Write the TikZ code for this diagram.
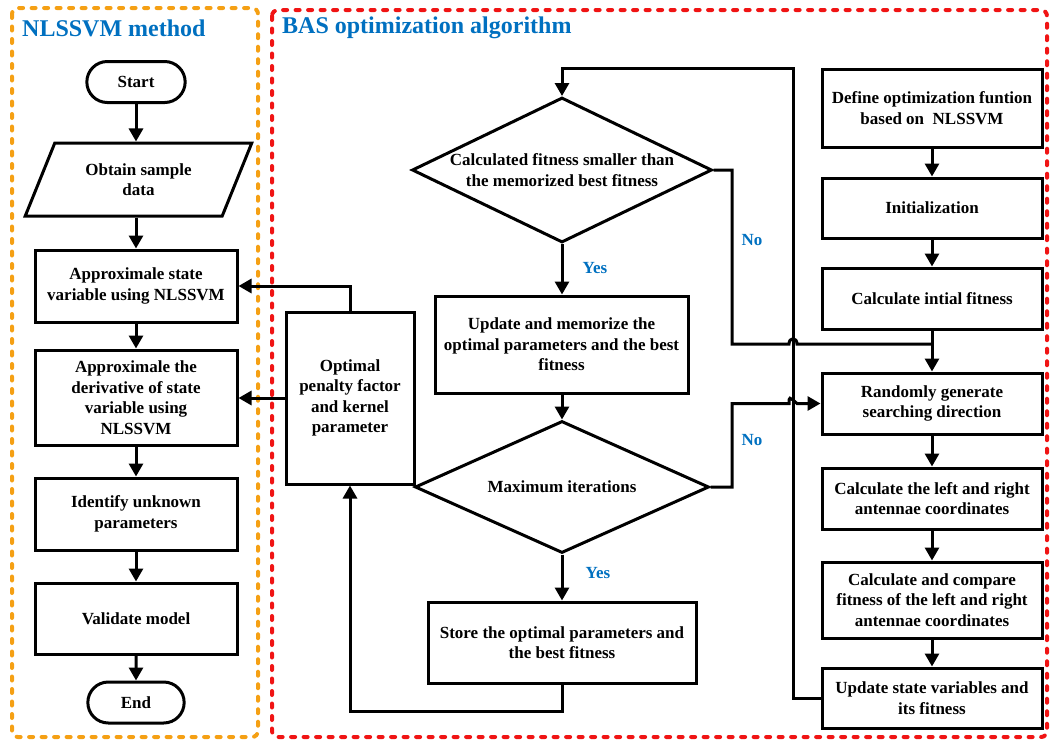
\documentclass[tikz,border=0pt]{standalone}
\usepackage{fontspec}
\setmainfont{Liberation Serif}
\usetikzlibrary{arrows.meta,shapes.geometric,shapes.misc}
\definecolor{ttl}{RGB}{0,112,192}
\definecolor{orng}{RGB}{245,160,20}
\definecolor{rd}{RGB}{240,20,20}
\begin{document}
\begin{tikzpicture}[x=1pt,y=-1pt,
  every node/.style={font=\fontsize{17}{20.5}\selectfont\bfseries, align=center},
  box/.style={draw, line width=3pt, rectangle, inner sep=2pt},
  pill/.style={draw, line width=3pt, rounded rectangle},
  dec/.style={draw, line width=3pt, diamond, inner sep=0pt, aspect=2.07},
  conn/.style={line width=3pt},
  arr/.style={conn, -{Triangle[length=13pt,width=14pt]}},
  lbl/.style={text=ttl},
  ttlstyle/.style={anchor=west, inner sep=0pt, text=ttl, font=\fontsize{24}{28}\selectfont\bfseries},
  frame/.style={line width=4pt, line cap=round, dash pattern=on 4pt off 8.5pt}]
\useasboundingbox (0,0) rectangle (1052,742);

% frames
\draw[frame, orng, rounded corners=6pt] (12,8) rectangle (258,737);
\draw[frame, rd, rounded corners=6pt] (272,10) rectangle (1047,737);

% titles
\node[ttlstyle] (t1) at (22,28) {NLSSVM method};
\node[ttlstyle] (t2) at (282,28) {BAS optimization algorithm};

% left column
\node[pill, minimum width=105pt, minimum height=41pt] (start) at (136,82) {Start};
\node[draw, line width=3pt, trapezium, trapezium left angle=63, trapezium right angle=117,
      trapezium stretches=true, minimum width=227pt, minimum height=73pt] (obtain) at (138.5,179.5) {Obtain sample\\data};
\node[box, minimum width=202pt, minimum height=72pt] (ap1) at (136,286) {Approximale state\\variable using NLSSVM};
\node[box, minimum width=202pt, minimum height=95pt] (ap2) at (136,397.5) {Approximale the\\derivative of state\\variable using\\NLSSVM};
\node[box, minimum width=202pt, minimum height=72pt] (ident) at (136,514) {Identify unknown\\parameters};
\node[box, minimum width=202pt, minimum height=71pt] (valid) at (136,618.5) {Validate model};
\node[pill, minimum width=103pt, minimum height=41pt] (endn) at (136,702.5) {End};

% middle
\node[box, minimum width=128pt, minimum height=172pt] (pen) at (350,398) {Optimal\\penalty factor\\and kernel\\parameter};
\node[dec, minimum width=300pt, minimum height=145pt] (d1) at (562,170) {Calculated fitness smaller than\\the memorized best fitness};
\node[box, minimum width=253pt, minimum height=97pt] (upd) at (561.5,344.5) {Update and memorize the\\optimal parameters and the best\\fitness};
\node[dec, minimum width=294pt, minimum height=132pt] (d2) at (562,487) {Maximum iterations};
\node[box, minimum width=268pt, minimum height=81pt] (store) at (562,642.5) {Store the optimal parameters and\\the best fitness};

% right column
\node[box, minimum width=220pt, minimum height=78pt] (def) at (932,108) {Define optimization funtion\\based on\ \ NLSSVM};
\node[box, minimum width=220pt, minimum height=60pt] (init) at (932,208) {Initialization};
\node[box, minimum width=220pt, minimum height=61pt] (cinit) at (932,298.5) {Calculate intial fitness};
\node[box, minimum width=220pt, minimum height=61pt] (rand) at (932,403.5) {Randomly generate\\searching direction};
\node[box, minimum width=220pt, minimum height=61pt] (ant) at (932,498.5) {Calculate the left and right\\antennae coordinates};
\node[box, minimum width=220pt, minimum height=76pt] (cmp) at (932,600) {Calculate and compare\\fitness of the left and right\\antennae coordinates};
\node[box, minimum width=220pt, minimum height=60pt] (ust) at (932,698) {Update state variables and\\its fitness};

% labels
\node[lbl] (yes1) at (595,268) {Yes};
\node[lbl] (yes2) at (598,573) {Yes};
\node[lbl] (no1) at (752,240) {No};
\node[lbl] (no2) at (752,440) {No};

% left column connectors
\draw[arr] (start.south) -- (start.south |- obtain.north);
\draw[arr] (start.south |- obtain.south) -- (ap1.north);
\draw[arr] (ap1) -- (ap2);
\draw[arr] (ap2) -- (ident);
\draw[arr] (ident) -- (valid);
\draw[arr] (valid) -- (endn);

% penalty connectors
\draw[arr] (pen.north) |- (ap1.east);
\draw[arr] (pen.west) -- (pen.west -| ap2.east);

% middle connectors
\draw[arr] (d1.south) -- (d1.south |- upd.north);
\draw[arr] (upd.south -| d2.north) -- (d2.north);
\draw[arr] (d2.south) -- (d2.south |- store.north);
\draw[arr] (store.south) -- ++(0,27) -| (pen.south);

% right column connectors
\draw[arr] (def) -- (init);
\draw[arr] (init) -- (cinit);
\draw[arr] (cinit) -- (rand);
\draw[arr] (rand) -- (ant);
\draw[arr] (ant) -- (cmp);
\draw[arr] (cmp) -- (ust);

% loop back and No branches
\coordinate (c1) at (732,344);
\coordinate (c2) at (732,0 |- rand.west);
\coordinate (h2) at (789,0 |- rand.west);
\draw[arr] (ust.west) -- (793,0 |- ust.west) -- (793,68) -- (562,68) -- (d1.north);
\draw[conn] (d1.east) -| (c1) -- (789,344) .. controls (789,337) and (797,337) .. (797,344) -- (cinit.south |- c1);
\draw[arr] (d2.east) -| (c2) -- (h2) .. controls ++(0,-7) and ++(-8,-7) .. ++(8,0) -- (rand.west);
\end{tikzpicture}
\end{document}
